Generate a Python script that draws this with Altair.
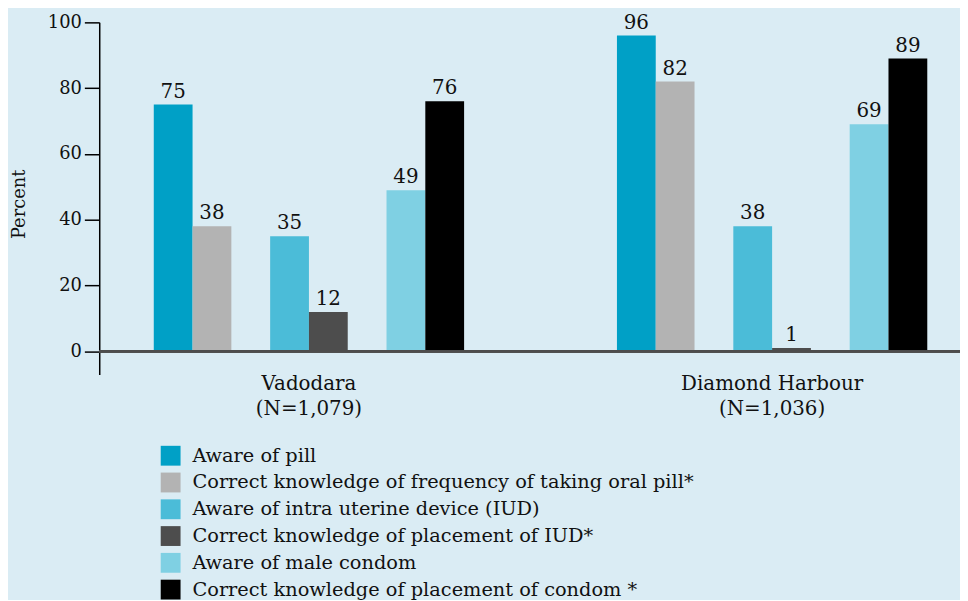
import altair as alt
import pandas as pd

# ---- data ----
groups = ["Vadodara", "Diamond Harbour"]
group_n = ["(N=1,079)", "(N=1,036)"]
series = [
    "Aware of pill",
    "Correct knowledge of frequency of taking oral pill*",
    "Aware of intra uterine device (IUD)",
    "Correct knowledge of placement of IUD*",
    "Aware of male condom",
    "Correct knowledge of placement of condom *",
]
vadodara = [75, 38, 35, 12, 49, 76]
diamond_harbour = [96, 82, 38, 1, 69, 89]
colors = ["#00a0c6", "#b3b3b3", "#4bbcd8", "#4d4d4d", "#7fd0e3", "#000000"]
y_ticks = [0, 20, 40, 60, 80, 100]

FONT = "DejaVu Serif"
BG = "#daecf4"

rows = []
for g, vals in zip(groups, [vadodara, diamond_harbour]):
    for s, v in zip(series, vals):
        rows.append({"group": g, "series": s, "value": v})
df = pd.DataFrame(rows)

# slot order inside each group: pairs separated by an empty slot
offset_domain = [series[0], series[1], "gap1", series[2], series[3], "gap2", series[4], series[5]]

label_map = " : ".join(
    f"datum.value == '{g}' ? ['{g}', '{n}']" for g, n in zip(groups, group_n)
) + " : datum.value"

x_enc = alt.X(
    "group:N",
    sort=groups,
    scale=alt.Scale(domain=groups, range=[55, 835], paddingInner=0.33, paddingOuter=0),
    axis=alt.Axis(
        title=None, domain=False, ticks=False, labelAngle=0,
        labelFont=FONT, labelFontSize=20, labelColor="#111111",
        labelPadding=-1, labelLineHeight=25, labelExpr=label_map,
        labelLimit=500,
    ),
)
xoff_enc = alt.XOffset(
    "series:N",
    scale=alt.Scale(domain=offset_domain, paddingInner=0, paddingOuter=0),
)
y_enc = alt.Y(
    "value:Q",
    scale=alt.Scale(domain=[-7, 100], nice=False, zero=False),
    axis=alt.Axis(
        values=y_ticks, grid=False, title="Percent",
        domainColor="#000000", domainWidth=1.5,
        tickColor="#000000", tickWidth=1.5, tickSize=15,
        labelFont=FONT, labelFontSize=18, labelColor="#111111", labelPadding=3,
        titleFont=FONT, titleFontSize=18, titleFontWeight="normal", titleColor="#111111",
        titleX=-80, titleY=183, titleAngle=270, titleBaseline="middle", titleAlign="center",
    ),
)

color_enc = alt.Color(
    "series:N",
    scale=alt.Scale(domain=series, range=colors),
    legend=alt.Legend(
        title=None, orient="none", legendX=62, legendY=427,
        symbolType="square", symbolSize=400, symbolStrokeWidth=0,
        labelFont=FONT, labelFontSize=19.5, labelColor="#111111",
        labelOffset=12, rowPadding=7, labelLimit=800,
    ),
)

bars = alt.Chart(df).mark_bar().encode(
    x=x_enc, xOffset=xoff_enc, y=y_enc, y2=alt.datum(0), color=color_enc,
)

zero = alt.Chart(df).mark_rule(color="#4d4d4d", strokeWidth=2).encode(
    y=alt.datum(0)
)

labels = alt.Chart(df).mark_text(
    baseline="bottom", dy=-3, font=FONT, fontSize=20, color="#111111"
).encode(
    x=x_enc, xOffset=xoff_enc, y=y_enc, text=alt.Text("value:Q"),
)

chart = (
    alt.layer(bars, zero, labels)
    .properties(
        width=868, height=355, background=BG,
        autosize=alt.AutoSizeParams(type="none"),
        padding={"left": 92, "top": 12, "right": 0, "bottom": 225},
    )
    .configure_view(stroke=None)
)

chart.save("out.html", embed_options={"renderer": "svg", "actions": False})
